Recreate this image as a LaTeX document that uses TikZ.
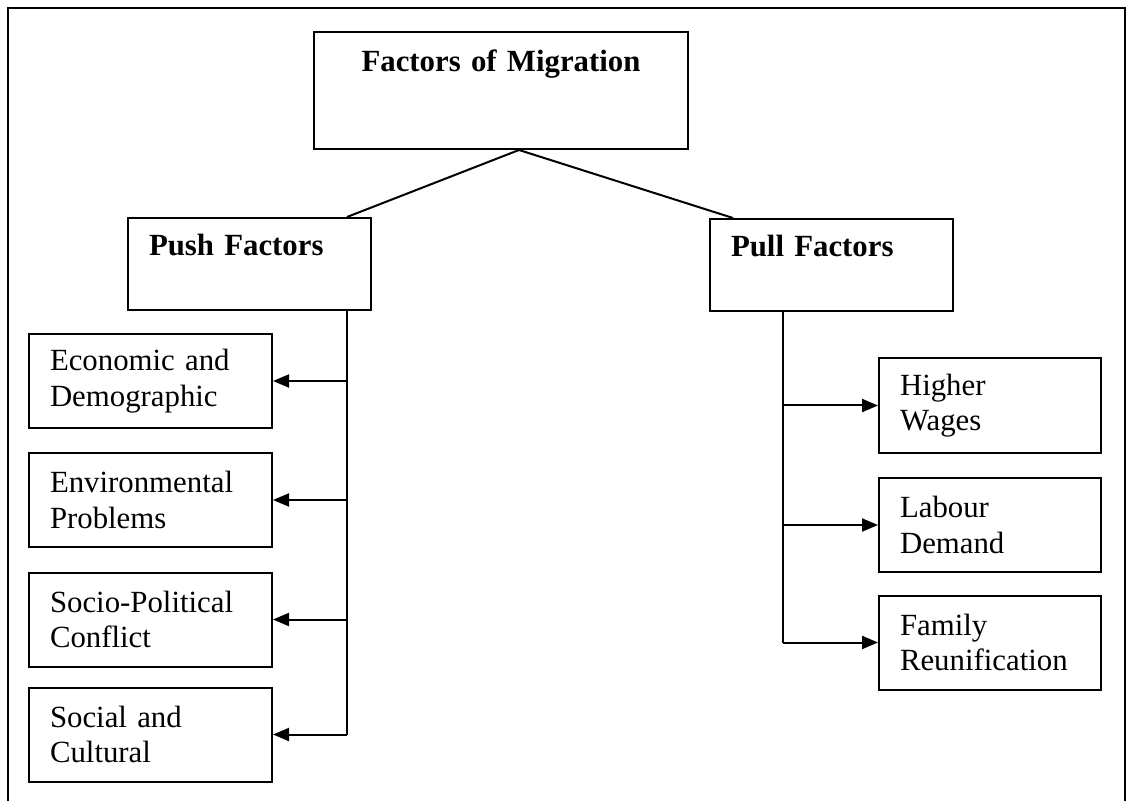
\documentclass[tikz,border=0pt]{standalone}
\usepackage{fontspec}
\setmainfont{Liberation Serif}
\usetikzlibrary{arrows.meta, calc}
\tikzset{
    base/.style={draw, rectangle, line width=1pt, inner ysep=0pt, font=\fontsize{15.4pt}{17.75pt}\selectfont},
    head/.style={base, anchor=north west, inner xsep=10.5pt, text width=100.5pt, align=left, text height=19pt, text depth=27pt, font=\fontsize{15.4pt}{17.75pt}\selectfont\bfseries},
    leaf/.style={base, inner xsep=10.5pt, minimum height=47pt, align=left},
    link/.style={line width=1pt},
    arrow/.style={line width=1pt, -{Triangle[length=8pt, width=6.5pt]}}
}
\begin{document}
\begin{tikzpicture}[x=0.5pt, y=-0.5pt]
\useasboundingbox (0,0) rectangle (1128,801);
\draw[link] (8,8) rectangle (1125,830);
\node[base, anchor=north west, inner xsep=0pt, text width=187pt, align=center, text height=20pt, text depth=38.5pt, font=\fontsize{15.4pt}{17.75pt}\selectfont\bfseries] (top) at (313,31) {Factors of Migration};
\node[head] (push) at (127,217) {Push Factors};
\node[head] (pull) at (709,218) {Pull Factors};
% push side
\node[leaf, text width=100.5pt] (econ) at (150.5,381) {Economic and\\Demographic};
\node[leaf, text width=100.5pt] (env) at (150.5,500) {Environmental\\Problems};
\node[leaf, text width=100.5pt] (socpol) at (150.5,619.5) {Socio-Political\\Conflict};
\node[leaf, text width=100.5pt] (social) at (150.5,734.5) {Social and\\Cultural};
% pull side
\node[leaf, text width=90pt] (wages) at (990,405.5) {Higher\\Wages};
\node[leaf, text width=90pt] (labour) at (990,525) {Labour\\Demand};
\node[leaf, text width=90pt] (family) at (990,642.5) {Family\\Reunification};
\coordinate (apex) at ($(top.south)+(18,0)$);
\coordinate (pushbus) at (347,0);
\coordinate (pullbus) at (783,0);
\draw[link] (apex) -- (push.north -| pushbus);
\draw[link] (apex) -- ($(pull.north west)+(24,0)$);
\draw[link] (push.south -| pushbus) -- (pushbus |- social.east);
\foreach \n in {econ, env, socpol, social}
    \draw[arrow] (pushbus |- \n.east) -- (\n.east);
\draw[link] (pull.south -| pullbus) -- (pullbus |- family.west);
\foreach \n in {wages, labour, family}
    \draw[arrow] (pullbus |- \n.west) -- (\n.west);
\end{tikzpicture}
\end{document}
